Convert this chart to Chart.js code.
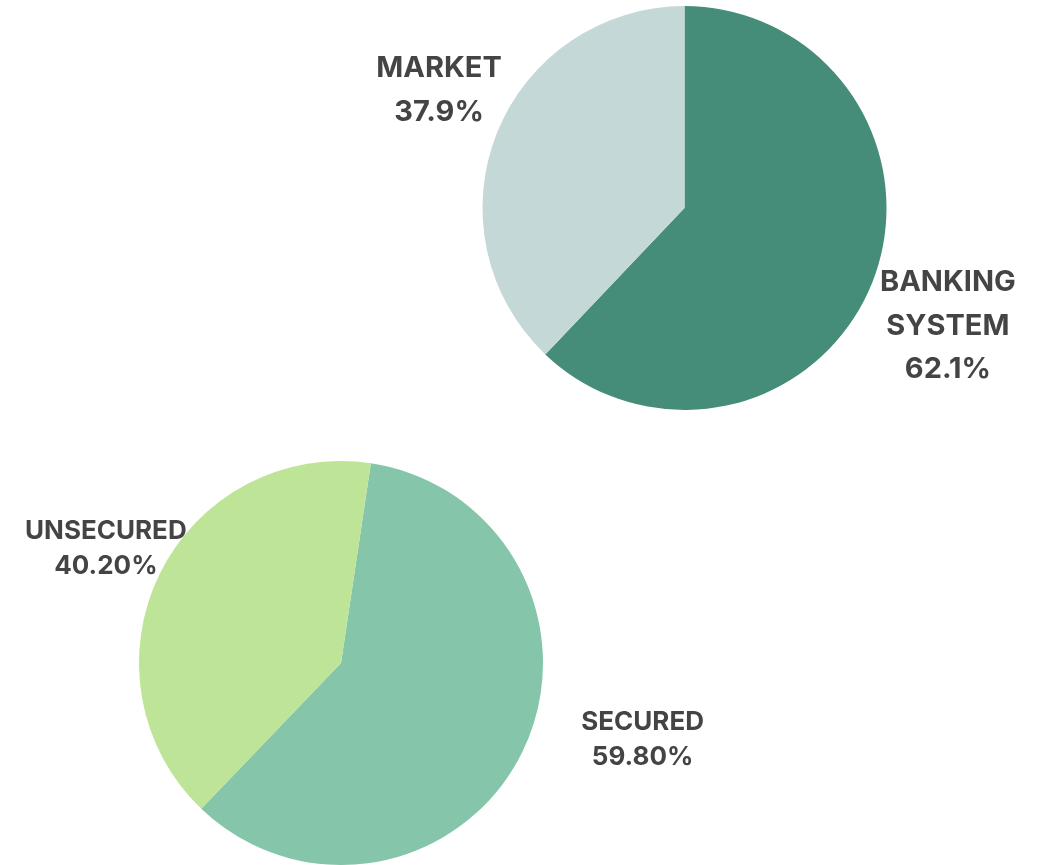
<!DOCTYPE html>
<html>
<head>
<meta charset="utf-8">
<script src="https://cdn.jsdelivr.net/npm/chart.js@4.4.1/dist/chart.umd.min.js"></script>
<style>
  html, body { margin: 0; padding: 0; background: #fff; }
  .wrap { position: absolute; left: 0; top: 0; width: 1053px; height: 865px; }
</style>
</head>
<body>
<div class="wrap"><canvas id="top"></canvas></div>
<div class="wrap"><canvas id="bottom"></canvas></div>
<script>
// top pie: funding source
const sourceLabels = ['BANKING\nSYSTEM', 'MARKET'];
const sourceValues = [62.1, 37.9];
const sourceText = ['62.1%', '37.9%'];
const sourceColors = ['#458c79', '#c4d9d7'];

// bottom pie: collateral
const securedLabels = ['SECURED', 'UNSECURED'];
const securedValues = [59.8, 40.2];
const securedText = ['59.80%', '40.20%'];
const securedColors = ['#85c6ab', '#bde497'];

// label anchors, in radius units from the pie centre
const sourceAnchor = [[1.304, 0.584], [-1.215, -0.582]];
const securedAnchor = [[1.493, 0.381], [-1.164, -0.567]];

const pieLabels = {
  id: 'pieLabels',
  afterDraw(chart, args, opts) {
    const ctx = chart.ctx;
    const meta = chart.getDatasetMeta(0);
    const arc = meta.data[0];
    const cx = arc.x, cy = arc.y, r = arc.outerRadius;
    ctx.save();
    ctx.fillStyle = '#444444';
    ctx.font = opts.font;
    ctx.textAlign = 'center';
    ctx.textBaseline = 'middle';
    chart.data.labels.forEach((lab, i) => {
      const lines = lab.split('\n').concat([opts.text[i]]);
      const x = cx + opts.anchor[i][0] * r;
      const y0 = cy + opts.anchor[i][1] * r - (lines.length - 1) * opts.lineHeight / 2;
      lines.forEach((ln, j) => ctx.fillText(ln, x, y0 + j * opts.lineHeight));
    });
    ctx.restore();
  }
};

function makePie(id, labels, values, colors, rotation, padding, labelOpts) {
  return new Chart(document.getElementById(id), {
    type: 'pie',
    data: {
      labels: labels,
      datasets: [{ data: values, backgroundColor: colors, borderWidth: 0 }]
    },
    options: {
      responsive: false,
      animation: false,
      rotation: rotation,
      layout: { padding: padding },
      plugins: {
        legend: { display: false },
        tooltip: { enabled: false },
        pieLabels: labelOpts
      }
    },
    plugins: [pieLabels]
  });
}

for (const id of ['top', 'bottom']) {
  const c = document.getElementById(id);
  c.width = 1053; c.height = 865;
  c.style.width = '1053px'; c.style.height = '865px';
}

makePie('top', sourceLabels, sourceValues, sourceColors, 0,
  { left: 482.5, right: 166.5, top: 6, bottom: 455 },
  { font: '700 29px Inter', lineHeight: 43.5, text: sourceText, anchor: sourceAnchor });

makePie('bottom', securedLabels, securedValues, securedColors, 8.5,
  { left: 139, right: 510, top: 461, bottom: 0 },
  { font: '700 26px Inter', lineHeight: 35, text: securedText, anchor: securedAnchor });
</script>
</body>
</html>
